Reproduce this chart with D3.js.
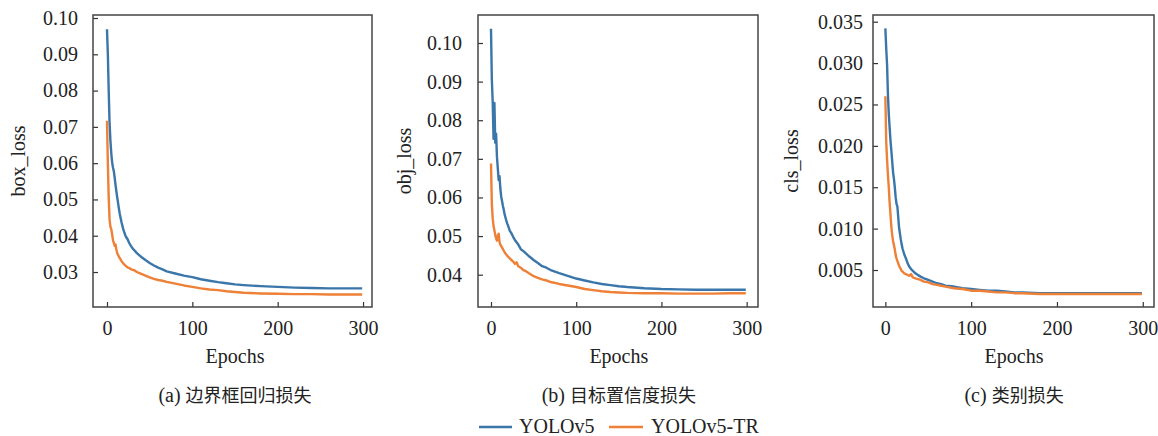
<!DOCTYPE html>
<html>
<head>
<meta charset="utf-8">
<script src="https://cdn.jsdelivr.net/npm/d3@7"></script>
<style>
  html, body { margin: 0; padding: 0; background: #fff; }
  svg { display: block; }
  .serif { font-family: "Liberation Serif", "Times New Roman", "DejaVu Serif", serif; }
  .cjk { font-family: "Noto Sans CJK SC", "Noto Sans CJK JP", sans-serif; }
</style>
</head>
<body>
<svg id="chart" width="1158" height="436"></svg>
<script>
// ---------------- DATA ----------------
const epochs = [0,1,2,3,4,5,6,7,8,9,10,11,12,13,14,15,16,17,18,19,20,22,24,26,28,30,32,35,38,41,45,50,55,60,65,70,80,90,100,110,120,130,140,150,160,180,200,220,240,260,280,299];
const seriesNames = ["YOLOv5", "YOLOv5-TR"];

const boxYolo = [0.0969,0.0900,0.0800,0.0712,0.0662,0.0628,0.0603,0.0588,0.0578,0.0560,0.0540,0.0522,0.0505,0.0490,0.0474,0.0460,0.0448,0.0437,0.0428,0.0418,0.0411,0.0398,0.0391,0.0380,0.0372,0.0365,0.0360,0.0352,0.0346,0.0340,0.0333,0.0325,0.0318,0.0312,0.0307,0.0302,0.0296,0.0290,0.0286,0.0280,0.0276,0.0272,0.0269,0.0266,0.0264,0.0261,0.0259,0.0257,0.0256,0.0255,0.0255,0.0255];
const boxTR   = [0.0717,0.0600,0.0505,0.0445,0.0425,0.0418,0.0405,0.0388,0.0380,0.0372,0.0376,0.0362,0.0352,0.0347,0.0342,0.0338,0.0334,0.0330,0.0327,0.0324,0.0321,0.0317,0.0313,0.0311,0.0308,0.0306,0.0305,0.0300,0.0297,0.0294,0.0290,0.0285,0.0281,0.0278,0.0276,0.0273,0.0268,0.0263,0.0259,0.0255,0.0252,0.0250,0.0247,0.0245,0.0243,0.0241,0.0240,0.0239,0.0239,0.0238,0.0238,0.0238];

const objYolo = [0.1037,0.0905,0.0848,0.0752,0.0845,0.0742,0.0765,0.0705,0.0675,0.0645,0.0655,0.0622,0.0602,0.0590,0.0578,0.0568,0.0556,0.0548,0.0540,0.0533,0.0527,0.0514,0.0507,0.0498,0.0490,0.0484,0.0478,0.0466,0.0461,0.0455,0.0447,0.0438,0.0430,0.0422,0.0418,0.0412,0.0404,0.0397,0.0390,0.0385,0.0380,0.0376,0.0373,0.0370,0.0368,0.0365,0.0363,0.0362,0.0361,0.0361,0.0361,0.0361];
const objTR   = [0.0688,0.0582,0.0545,0.0526,0.0515,0.0503,0.0494,0.0488,0.0500,0.0506,0.0485,0.0478,0.0474,0.0470,0.0466,0.0462,0.0458,0.0455,0.0452,0.0449,0.0447,0.0442,0.0438,0.0434,0.0428,0.0432,0.0422,0.0418,0.0412,0.0409,0.0403,0.0396,0.0392,0.0388,0.0385,0.0381,0.0376,0.0372,0.0368,0.0363,0.0360,0.0357,0.0355,0.0354,0.0353,0.0352,0.0352,0.0351,0.0351,0.0351,0.0352,0.0352];

const clsYolo = [0.0342,0.0318,0.0298,0.0262,0.0238,0.0222,0.0206,0.0194,0.0181,0.0168,0.0160,0.0150,0.0138,0.0130,0.0127,0.0114,0.0101,0.0094,0.0087,0.0081,0.0076,0.0069,0.0064,0.0058,0.0054,0.0051,0.0049,0.0046,0.0044,0.0042,0.0040,0.0038,0.0036,0.0034,0.0033,0.0031,0.0030,0.0028,0.0027,0.0026,0.0025,0.0025,0.0024,0.0023,0.0023,0.0022,0.0022,0.0022,0.0022,0.0022,0.0022,0.0022];
const clsTR   = [0.0260,0.0205,0.0183,0.0165,0.0150,0.0131,0.0117,0.0102,0.0092,0.0085,0.0080,0.0075,0.0068,0.0064,0.0061,0.0058,0.0055,0.0053,0.0051,0.0049,0.0048,0.0046,0.0045,0.0044,0.0043,0.0045,0.0041,0.0040,0.0039,0.0038,0.0036,0.0035,0.0033,0.0032,0.0031,0.0030,0.0028,0.0027,0.0025,0.0025,0.0024,0.0023,0.0023,0.0022,0.0022,0.0021,0.0021,0.0021,0.0021,0.0021,0.0021,0.0021];

const xTicks = [0, 100, 200, 300];
const boxTicks = [0.03,0.04,0.05,0.06,0.07,0.08,0.09,0.10];
const objTicks = [0.04,0.05,0.06,0.07,0.08,0.09,0.10];
const clsTicks = [0.005,0.010,0.015,0.020,0.025,0.030,0.035];
const yLabels = ["box_loss", "obj_loss", "cls_loss"];
const captionTags = ["(a)", "(b)", "(c)"];
const captionTexts = ["边界框回归损失", "目标置信度损失", "类别损失"];
const xLabel = "Epochs";

// ---------------- LAYOUT ----------------
const colors = ["#3a76aa", "#ee8037"];

const panels = [
  { left: 93,  right: 372,  xDom: [-16.4, 310.5], yDom: [0.02036, 0.10083], ticks: boxTicks, fmt: ".2f", series: [boxYolo, boxTR], ylabX: 20,  lblPad: 15 },
  { left: 478, right: 758,  xDom: [-15.25, 313.3], yDom: [0.03163, 0.10725], ticks: objTicks, fmt: ".2f", series: [objYolo, objTR], ylabX: 406, lblPad: 16 },
  { left: 873, right: 1154, xDom: [-14.4, 313.1], yDom: [0.00053, 0.03581], ticks: clsTicks, fmt: ".3f", series: [clsYolo, clsTR], ylabX: 793, lblPad: 10 }
];
const plotTop = 15, plotBottom = 307;

const svg = d3.select("#chart");
svg.append("rect").attr("width", 1158).attr("height", 436).attr("fill", "#fff");

panels.forEach((p, pi) => {
  const x = d3.scaleLinear().domain(p.xDom).range([p.left, p.right]);
  const y = d3.scaleLinear().domain(p.yDom).range([plotBottom, plotTop]);
  const g = svg.append("g");

  // lines
  const line = d3.line().x((d, i) => x(epochs[i])).y(d => y(d));
  p.series.forEach((s, k) => {
    g.append("path").datum(s)
      .attr("d", line)
      .attr("fill", "none")
      .attr("stroke", colors[k])
      .attr("stroke-width", 2.4)
      .attr("stroke-linejoin", "round")
      .attr("stroke-linecap", "butt");
  });

  // axes (inward ticks)
  const yAxis = d3.axisLeft(y).tickValues(p.ticks).tickFormat(d3.format(p.fmt)).tickSizeInner(-5).tickSizeOuter(0).tickPadding(p.lblPad);
  const xAxis = d3.axisBottom(x).tickValues(xTicks).tickFormat(d3.format("d")).tickSizeInner(-5).tickSizeOuter(0).tickPadding(14);

  const ya = g.append("g").attr("transform", `translate(${p.left},0)`).call(yAxis);
  const xa = g.append("g").attr("transform", `translate(0,${plotBottom})`).call(xAxis);
  [ya, xa].forEach(a => {
    a.attr("font-family", null).attr("font-size", null).attr("class", "serif");
    a.select(".domain").remove();
    a.selectAll(".tick line").attr("stroke", "#333").attr("stroke-width", 1.2);
    a.selectAll(".tick text").attr("font-size", 20).attr("fill", "#222");
  });

  // frame
  g.append("rect")
    .attr("x", p.left).attr("y", plotTop)
    .attr("width", p.right - p.left).attr("height", plotBottom - plotTop)
    .attr("fill", "none").attr("stroke", "#444").attr("stroke-width", 1.5);

  // y label
  g.append("text").attr("class", "serif")
    .attr("transform", `translate(${p.ylabX},${(plotTop + plotBottom) / 2}) rotate(-90)`)
    .attr("text-anchor", "middle").attr("dominant-baseline", "middle")
    .attr("font-size", 20).attr("fill", "#222")
    .text(yLabels[pi]);

  // x label
  g.append("text").attr("class", "serif")
    .attr("x", x(150)).attr("y", 363)
    .attr("text-anchor", "middle")
    .attr("font-size", 20).attr("fill", "#222")
    .text(xLabel);

  // caption
  const cap = g.append("text")
    .attr("x", x(150)).attr("y", 402)
    .attr("text-anchor", "middle")
    .attr("font-size", 18).attr("fill", "#222");
  cap.append("tspan").attr("class", "serif").attr("font-size", 20).text(captionTags[pi] + " ");
  cap.append("tspan").attr("class", "cjk").text(captionTexts[pi]);
});

// legend
const legend = svg.append("g");
const legendItems = [{ x1: 479, x2: 512, tx: 519 }, { x1: 609, x2: 643, tx: 651 }];
seriesNames.forEach((name, k) => {
  const it = legendItems[k];
  legend.append("line")
    .attr("x1", it.x1).attr("x2", it.x2).attr("y1", 427).attr("y2", 427)
    .attr("stroke", colors[k]).attr("stroke-width", 2.4);
  legend.append("text").attr("class", "serif")
    .attr("x", it.tx).attr("y", 433)
    .attr("font-size", 20).attr("fill", "#222")
    .text(name);
});
</script>
</body>
</html>
